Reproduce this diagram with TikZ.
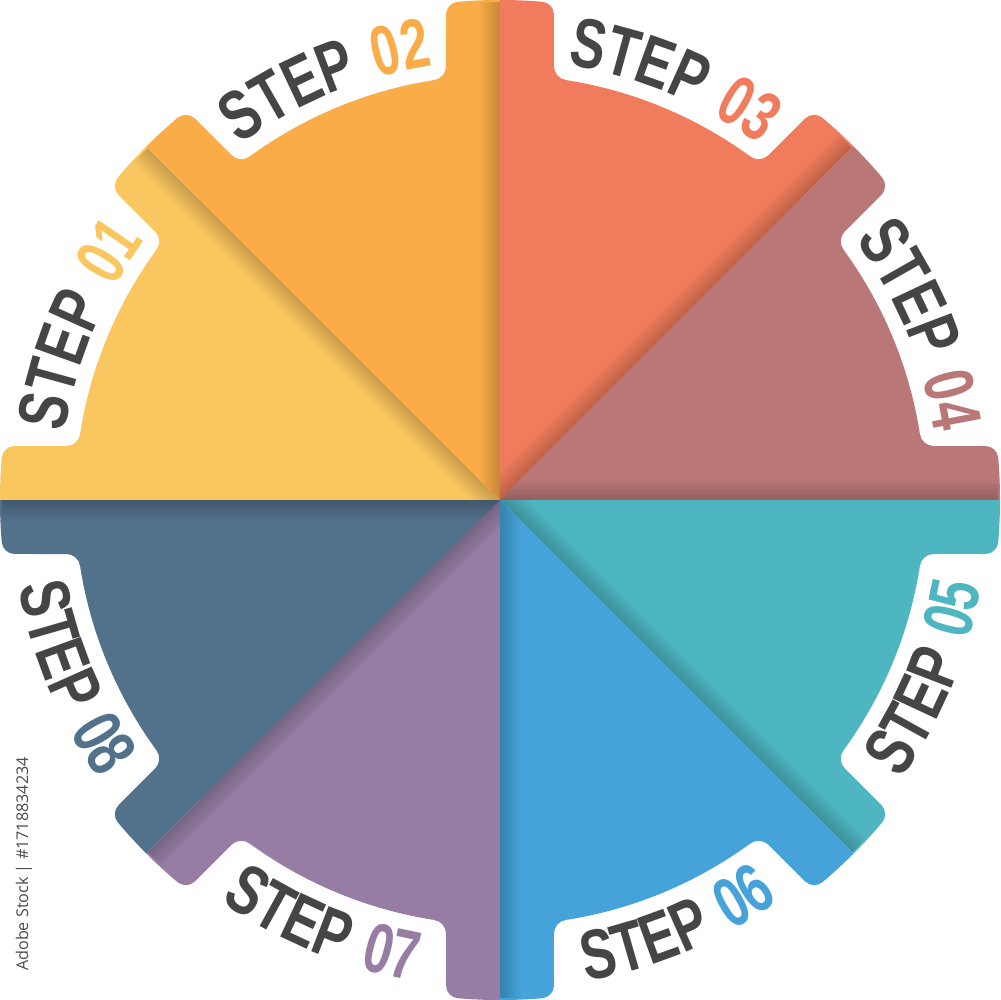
\documentclass[tikz,border=0pt]{standalone}
\usepackage{fontspec}
\usetikzlibrary{decorations.text}
\newfontfamily\stepfont[FakeStretch=0.74,LetterSpace=6]{Liberation Sans}
\newfontfamily\numfont[FakeStretch=0.72,LetterSpace=6]{Liberation Sans}
\newfontfamily\wmfont{Open Sans}
\definecolor{c1}{HTML}{FAC660}
\definecolor{c2}{HTML}{FAAC48}
\definecolor{c3}{HTML}{F07C5D}
\definecolor{c4}{HTML}{B97877}
\definecolor{c5}{HTML}{4EB6C1}
\definecolor{c6}{HTML}{45A3D9}
\definecolor{c7}{HTML}{977CA4}
\definecolor{c8}{HTML}{52718B}
\definecolor{stepgray}{HTML}{454545}
\newcommand{\stepfmt}{\stepfont\bfseries\fontsize{20}{20}\selectfont\color{stepgray}}
\newcommand{\numfmt}{\numfont\bfseries\fontsize{20}{20}\selectfont}
\newcommand{\toothpath}{(0,0) -- (419.9,-65.8) arc[start angle=171.09, end angle=90, radius=14]
  -- (485.3,-54) arc[start angle=270, end angle=355.17, radius=13]
  arc[start angle=-4.83, end angle=4.83, radius=500]
  arc[start angle=4.83, end angle=90, radius=13]
  -- (433.7,54) arc[start angle=270, end angle=188.91, radius=14] -- cycle}
\tikzset{
  steplabel/.style={decorate, decoration={text along path, text align=center, text={#1}}}
}
\begin{document}
\begin{tikzpicture}[x=0.1mm,y=0.1mm]
\useasboundingbox (-500,-500) rectangle (500,500);
\fill[white] (-500,-500) rectangle (500,500);
% sectors
\foreach \a/\col in {135/c1,90/c2,45/c3,0/c4,-45/c5,-90/c6,-135/c7,180/c8}{
  \begin{scope}
    \clip (0,0) -- (\a:700) -- ({\a+22.5}:760) -- ({\a+45}:700) -- cycle;
    \fill[\col] (0,0) circle[radius=425];
    \begin{scope}[rotate=\a]
      \fill[\col] \toothpath;
    \end{scope}
    \begin{scope}[rotate=\a+45]
      \fill[\col] \toothpath;
    \end{scope}
    \begin{scope}[rotate=\a]
      \foreach \h in {2.5,5,...,20} \fill[black, opacity=0.025] (0,0) rectangle (498,\h);
    \end{scope}
  \end{scope}
}
% labels, upper half (clockwise, tops outward)
\path[steplabel={|\stepfmt|STEP |\numfmt\color{c1}|01}] (177.5:440) arc[start angle=177.5, end angle=137.5, radius=440];
\path[steplabel={|\stepfmt|STEP |\numfmt\color{c2}|02}] (132.5:440) arc[start angle=132.5, end angle=92.5, radius=440];
\path[steplabel={|\stepfmt|STEP |\numfmt\color{c3}|03}] (87.5:440) arc[start angle=87.5, end angle=47.5, radius=440];
\path[steplabel={|\stepfmt|STEP |\numfmt\color{c4}|04}] (42.5:440) arc[start angle=42.5, end angle=2.5, radius=440];
% labels, lower half (counter-clockwise, tops inward)
\path[steplabel={|\stepfmt|STEP |\numfmt\color{c5}|05}] (-42.5:489) arc[start angle=-42.5, end angle=-2.5, radius=489];
\path[steplabel={|\stepfmt|STEP |\numfmt\color{c6}|06}] (-87.5:489) arc[start angle=-87.5, end angle=-47.5, radius=489];
\path[steplabel={|\stepfmt|STEP |\numfmt\color{c7}|07}] (-132.5:489) arc[start angle=-132.5, end angle=-92.5, radius=489];
\path[steplabel={|\stepfmt|STEP |\numfmt\color{c8}|08}] (-177.5:489) arc[start angle=-177.5, end angle=-137.5, radius=489];
% stock id
\node[rotate=90, text=black!70, font=\wmfont\fontsize{4.6}{5}\selectfont, inner sep=0] (wm) at (-476,-364) {Adobe Stock | \#1718834234};
\end{tikzpicture}
\end{document}
